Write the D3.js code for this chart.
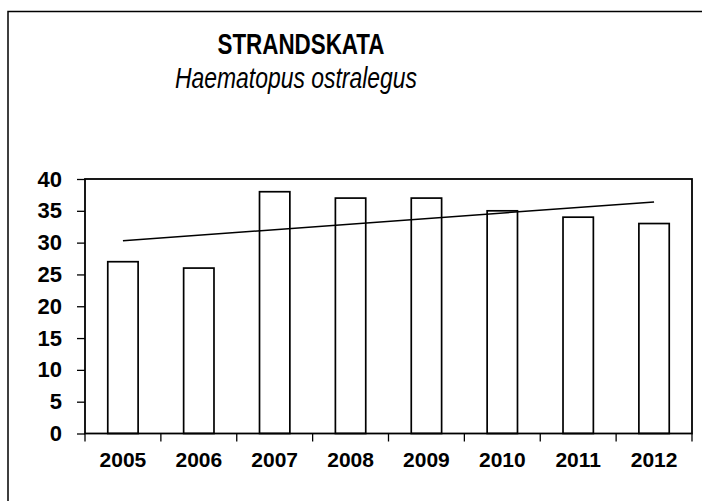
<!DOCTYPE html>
<html>
<head>
  <meta charset="utf-8">
  <title>Strandskata</title>
  <script src="https://d3js.org/d3.v7.min.js"></script>
  <style>
    body { margin: 0; background: #fff; }
    text { font-family: "Liberation Sans", Arial, sans-serif; fill: #000; }
  </style>
</head>
<body>
<script>
  // data
  var years = ["2005", "2006", "2007", "2008", "2009", "2010", "2011", "2012"];
  var counts = [27, 26, 38, 37, 37, 35, 34, 33];
  var trendStart = 30.3, trendEnd = 36.4;   // linear trend, first and last year
  var yTicks = [0, 5, 10, 15, 20, 25, 30, 35, 40];

  var W = 702, H = 501;
  var plotL = 85, plotR = 692, plotT = 179, plotB = 433.5;

  var svg = d3.select("body").append("svg")
      .attr("width", W).attr("height", H);

  // outer chart border (runs off the page to the right and bottom)
  svg.append("rect")
      .attr("x", 8).attr("y", 11.5)
      .attr("width", 900).attr("height", 700)
      .attr("fill", "none").attr("stroke", "#000").attr("stroke-width", 1.5);

  // titles, condensed like the original
  svg.append("text")
      .attr("x", 301).attr("y", 54)
      .attr("text-anchor", "middle")
      .style("font-size", "30px").style("font-weight", "bold")
      .attr("textLength", 167).attr("lengthAdjust", "spacingAndGlyphs")
      .text("STRANDSKATA");
  svg.append("text")
      .attr("x", 296).attr("y", 88)
      .attr("text-anchor", "middle")
      .style("font-size", "30px").style("font-style", "italic")
      .attr("textLength", 242).attr("lengthAdjust", "spacingAndGlyphs")
      .text("Haematopus ostralegus");

  var x = d3.scaleBand().domain(years).range([plotL, plotR]).paddingInner(0).paddingOuter(0);
  var y = d3.scaleLinear().domain([0, 40]).range([plotB, plotT]);

  // bars
  svg.selectAll("rect.bar")
    .data(counts)
    .enter().append("rect")
      .attr("class", "bar")
      .attr("x", function(d, i) { return x(years[i]) + x.bandwidth() * 0.3; })
      .attr("width", x.bandwidth() * 0.4)
      .attr("y", function(d) { return y(d); })
      .attr("height", function(d) { return y(0) - y(d); })
      .attr("fill", "#fff").attr("stroke", "#000").attr("stroke-width", 1.7);

  // trend line
  svg.append("line")
      .attr("x1", x(years[0]) + x.bandwidth() / 2).attr("y1", y(trendStart))
      .attr("x2", x(years[years.length - 1]) + x.bandwidth() / 2).attr("y2", y(trendEnd))
      .attr("stroke", "#000").attr("stroke-width", 1.5);

  // plot area frame
  svg.append("rect")
      .attr("x", plotL).attr("y", plotT)
      .attr("width", plotR - plotL).attr("height", plotB - plotT)
      .attr("fill", "none").attr("stroke", "#000").attr("stroke-width", 1.8);

  // y axis
  var yAxis = svg.append("g")
      .attr("transform", "translate(" + plotL + ",0)")
      .call(d3.axisLeft(y).tickValues(yTicks).tickSize(8).tickPadding(15));
  yAxis.select(".domain").remove();
  yAxis.selectAll("line").attr("stroke", "#000").attr("stroke-width", 1.3);
  yAxis.selectAll("text")
      .style("font-size", "22px").style("font-weight", "bold")
      .style("font-family", "'Liberation Sans', Arial, sans-serif");

  // x axis: ticks at category boundaries
  var xAxis = svg.append("g")
      .attr("transform", "translate(0," + plotB + ")")
      .call(d3.axisBottom(x).tickSize(0).tickPadding(19));
  xAxis.select(".domain").remove();
  xAxis.selectAll("text")
      .style("font-size", "21px").style("font-weight", "bold")
      .style("font-family", "'Liberation Sans', Arial, sans-serif");
  xAxis.selectAll("line.bound")
    .data(years.concat(["end"]))
    .enter().append("line")
      .attr("class", "bound")
      .attr("x1", function(d, i) { return plotL + i * x.bandwidth(); })
      .attr("x2", function(d, i) { return plotL + i * x.bandwidth(); })
      .attr("y1", 0).attr("y2", 8)
      .attr("stroke", "#000").attr("stroke-width", 1.3);
</script>
</body>
</html>
